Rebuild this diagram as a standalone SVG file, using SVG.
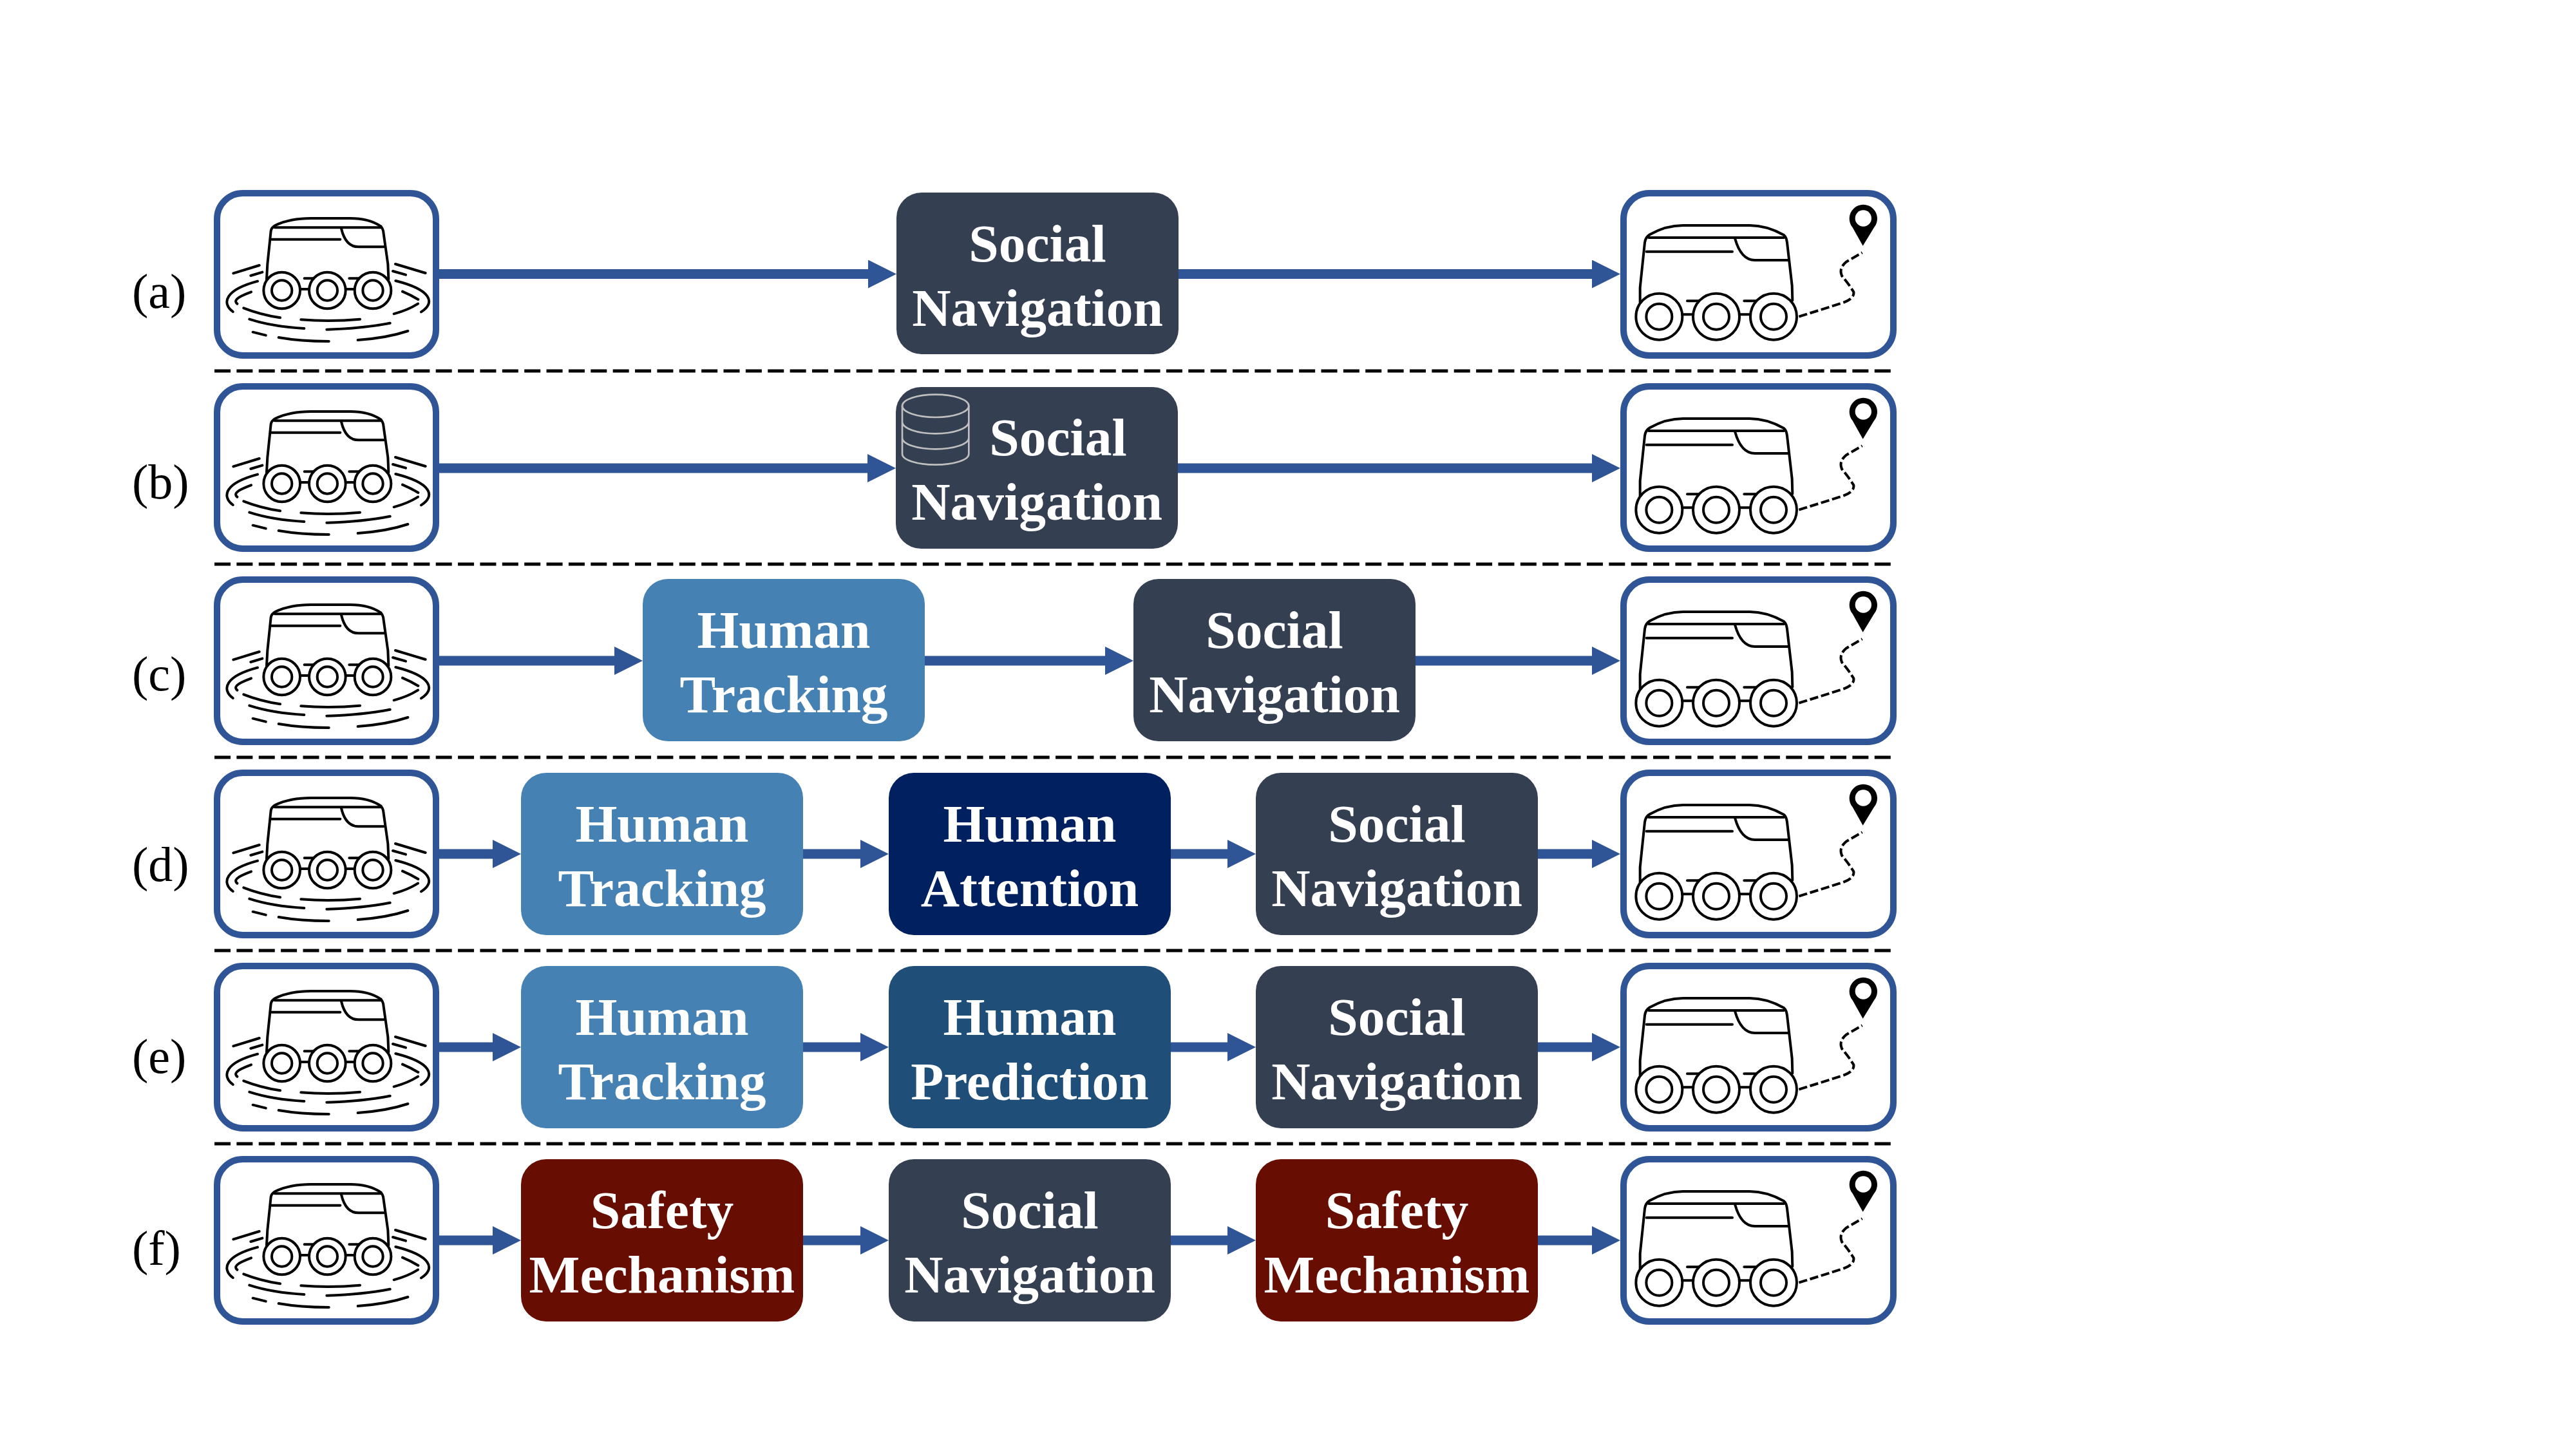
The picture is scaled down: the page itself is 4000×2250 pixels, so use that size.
<svg xmlns="http://www.w3.org/2000/svg" xmlns:xlink="http://www.w3.org/1999/xlink" width="4000" height="2250" viewBox="0 0 4000 2250">
<style>
.box{fill:#fff;stroke:#2F5597;stroke-width:10}
.ic{fill:none;stroke:#000;stroke-width:12;stroke-linecap:round;stroke-linejoin:round}
.wh{fill:#fff}
.n{stroke:none}
.sn{fill:#343F52}.ht{fill:#4681B4}.at{fill:#002060}.pr{fill:#1F4E79}.sm{fill:#670D02}
.t{font-family:"Liberation Serif","Times New Roman",serif;font-weight:700;font-size:83.500px;fill:#fff;text-anchor:middle}
.l{font-family:"Liberation Serif","Times New Roman",serif;font-size:76px;fill:#000}
.c{fill:none;stroke:#2F5597;stroke-width:15;marker-end:url(#ah)}
.d{stroke:#000;stroke-width:5;stroke-dasharray:25 9.370;fill:none}
.db{fill:none;stroke:#BFBFBF;stroke-width:8}
</style>
<defs>
<marker id="ah" markerUnits="userSpaceOnUse" markerWidth="44" markerHeight="44" refX="0" refY="22" orient="auto"><path d="M0,0L44,22L0,44Z" fill="#2F5597"/></marker>
<g id="start">
<rect class="box" x="337" y="300" width="340" height="252" rx="40"/>
<g transform="translate(310,270) scale(.33333)" class="ic">
<path d="M312,490L316,420L332,265Q335,250 352,240Q420,207 520,207L700,207Q790,207 845,245Q853,255 855,265L877,420L880,490"/>
<path d="M350,250L845,250M335,305L655,305M660,255Q680,340 740,340L858,340"/>
<path d="M488,487L530,487M697,487L742,487M470,537L508,537M683,537L720,537"/>
<circle class="wh" cx="383" cy="543" r="85"/><circle class="wh" cx="595" cy="543" r="85"/><circle class="wh" cx="807" cy="543" r="85"/>
<circle cx="383" cy="543" r="47"/><circle cx="595" cy="543" r="47"/><circle cx="807" cy="543" r="47"/>
<path d="M157,463L278,426M238,474L292,458M155,642C100,600 120,540 270,500M240,550C200,565 150,585 175,605M205,625Q280,655 375,670M232,677Q340,712 487,720M248,737L308,752M368,762Q470,780 602,780M472,679Q610,690 747,677M592,725Q760,720 887,695M737,774Q870,765 970,732M905,652Q970,635 1017,605M1032,643C1100,600 1080,540 913,498M945,548Q985,565 1018,585M900,453L960,470M912,420L1052,462"/>
</g>
</g>
<g id="goal">
<rect class="box" x="2521" y="300" width="419" height="252" rx="40"/>
<g transform="translate(2480,270) scale(.33333)" class="ic">
<path d="M200,600L200,530L222,320Q225,295 245,283Q320,240 400,240L710,240Q790,240 870,285Q882,295 885,320L908,520L910,590"/>
<path d="M240,297L870,297M230,362L630,362M642,300Q670,402 735,402L890,402"/>
<path d="M420,592L475,592M685,592L745,592M400,655L445,655M665,655L712,655"/>
<circle class="wh" cx="289" cy="665" r="108"/><circle class="wh" cx="555" cy="665" r="108"/><circle class="wh" cx="822" cy="665" r="108"/>
<circle cx="289" cy="665" r="60"/><circle cx="555" cy="665" r="60"/><circle cx="822" cy="665" r="60"/>
<path stroke-dasharray="40 14" stroke-linecap="butt" d="M940,665L1130,605Q1200,585 1195,550Q1170,510 1140,475Q1125,440 1160,410L1235,367"/>
<path d="M1238,335L1190,250A65,65 0 1 1 1290,250Z" fill="#000" stroke="none"/>
<circle cx="1240" cy="207" r="38" fill="#fff" stroke="none"/>
</g>
</g>
</defs>
<g id="labels">
<text class="l" x="205" y="478">(a)</text>
<text class="l" x="205" y="774">(b)</text>
<text class="l" x="205" y="1071.500">(c)</text>
<text class="l" x="205" y="1368">(d)</text>
<text class="l" x="205" y="1666">(e)</text>
<text class="l" x="205" y="1964">(f)</text>
</g>
<g id="separators">
<path class="d" d="M333,576H2936M333,876H2936M333,1176H2936M333,1476H2936M333,1776H2936"/>
</g>
<g id="connectors">
<path class="c" d="M682,425.500H1348"/><path class="c" d="M1830,425.500H2472"/>
<path class="c" d="M682,727H1347"/><path class="c" d="M1829,727H2472"/>
<path class="c" d="M682,1026H954"/><path class="c" d="M1436,1026H1716"/><path class="c" d="M2198,1026H2472"/>
<path class="c" d="M682,1326H765"/><path class="c" d="M1247,1326H1336"/><path class="c" d="M1818,1326H1906"/><path class="c" d="M2388,1326H2472"/>
<path class="c" d="M682,1626H765"/><path class="c" d="M1247,1626H1336"/><path class="c" d="M1818,1626H1906"/><path class="c" d="M2388,1626H2472"/>
<path class="c" d="M682,1926H765"/><path class="c" d="M1247,1926H1336"/><path class="c" d="M1818,1926H1906"/><path class="c" d="M2388,1926H2472"/>
</g>
<g id="start-a"><use href="#start"/></g>
<g id="start-b"><use href="#start" y="300"/></g>
<g id="start-c"><use href="#start" y="600"/></g>
<g id="start-d"><use href="#start" y="900"/></g>
<g id="start-e"><use href="#start" y="1200"/></g>
<g id="start-f"><use href="#start" y="1500"/></g>
<g id="goal-a"><use href="#goal"/></g>
<g id="goal-b"><use href="#goal" y="300"/></g>
<g id="goal-c"><use href="#goal" y="600"/></g>
<g id="goal-d"><use href="#goal" y="900"/></g>
<g id="goal-e"><use href="#goal" y="1200"/></g>
<g id="goal-f"><use href="#goal" y="1500"/></g>
<g id="a-social"><rect class="n sn" x="1392" y="299" width="438" height="251" rx="39"/><text class="t" x="1611" y="405.500">Social</text><text class="t" x="1611" y="505.500">Navigation</text></g>
<g id="b-social"><rect class="n sn" x="1391" y="601" width="438" height="251" rx="39"/>
<g transform="translate(1360,570) scale(.33333)" class="db"><ellipse cx="278" cy="181" rx="155" ry="53"/><path d="M123,181V405A155,50 0 0 0 433,405V181M123,255A155,55 0 0 0 433,255M123,330A155,52 0 0 0 433,330"/></g>
<text class="t" x="1643" y="707">Social</text><text class="t" x="1610" y="807">Navigation</text></g>
<g id="c-human"><rect class="n ht" x="998" y="899" width="438" height="252" rx="39"/><text class="t" x="1217" y="1006">Human</text><text class="t" x="1217" y="1106">Tracking</text></g>
<g id="c-social"><rect class="n sn" x="1760" y="899" width="438" height="252" rx="39"/><text class="t" x="1979" y="1006">Social</text><text class="t" x="1979" y="1106">Navigation</text></g>
<g id="d-human"><rect class="n ht" x="809" y="1200" width="438" height="252" rx="39"/><text class="t" x="1028" y="1307">Human</text><text class="t" x="1028" y="1407">Tracking</text></g>
<g id="d-attention"><rect class="n at" x="1380" y="1200" width="438" height="252" rx="39"/><text class="t" x="1599" y="1307">Human</text><text class="t" x="1599" y="1407">Attention</text></g>
<g id="d-social"><rect class="n sn" x="1950" y="1200" width="438" height="252" rx="39"/><text class="t" x="2169" y="1307">Social</text><text class="t" x="2169" y="1407">Navigation</text></g>
<g id="e-human"><rect class="n ht" x="809" y="1500" width="438" height="252" rx="39"/><text class="t" x="1028" y="1607">Human</text><text class="t" x="1028" y="1707">Tracking</text></g>
<g id="e-prediction"><rect class="n pr" x="1380" y="1500" width="438" height="252" rx="39"/><text class="t" x="1599" y="1607">Human</text><text class="t" x="1599" y="1707">Prediction</text></g>
<g id="e-social"><rect class="n sn" x="1950" y="1500" width="438" height="252" rx="39"/><text class="t" x="2169" y="1607">Social</text><text class="t" x="2169" y="1707">Navigation</text></g>
<g id="f-safety1"><rect class="n sm" x="809" y="1800" width="438" height="252" rx="39"/><text class="t" x="1028" y="1907">Safety</text><text class="t" x="1028" y="2007">Mechanism</text></g>
<g id="f-social"><rect class="n sn" x="1380" y="1800" width="438" height="252" rx="39"/><text class="t" x="1599" y="1907">Social</text><text class="t" x="1599" y="2007">Navigation</text></g>
<g id="f-safety2"><rect class="n sm" x="1950" y="1800" width="438" height="252" rx="39"/><text class="t" x="2169" y="1907">Safety</text><text class="t" x="2169" y="2007">Mechanism</text></g>
</svg>
